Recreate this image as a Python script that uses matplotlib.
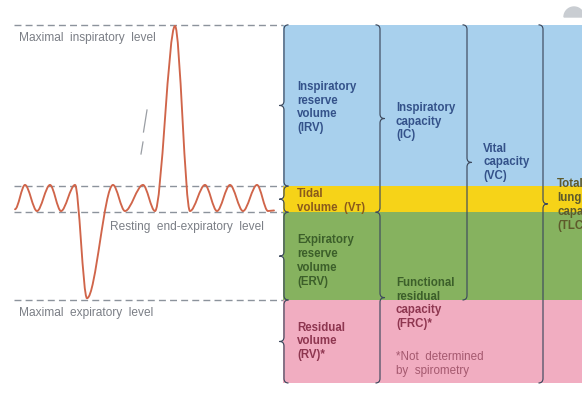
import matplotlib
matplotlib.use('Agg')
import matplotlib.pyplot as plt
from matplotlib.path import Path
from matplotlib.patches import PathPatch, Wedge
import matplotlib.transforms as mtransforms

plt.rcParams['font.family'] = ['Liberation Sans', 'DejaVu Sans']

# lung volumes (mL), from bottom to top
vol_keys = ['RV', 'ERV', 'VT', 'IRV']
vol_values = [1400, 1480, 440, 2720]
vol_colors = ['#f1adc1', '#86b25f', '#f6d318', '#a8d0ed']
vol_text_colors = ['#8e3650', '#3c5f2a', '#8a5a1c', '#34528a']
vol_labels = ['Residual\nvolume\n(RV)*',
              'Expiratory\nreserve\nvolume\n(ERV)',
              'Tidal\nvolume  (V\u1d1b)',
              'Inspiratory\nreserve\nvolume\n(IRV)']

# spirogram trace: time (arb.) and lung volume (mL) at turning points
trace_t = [15, 25, 37, 50, 61, 75, 87, 113, 125, 143, 155, 175, 190, 205, 217, 230, 243, 257, 268, 274]
trace_v = [2930, 3340, 2900, 3340, 2900, 3340, 1430, 3340, 2900, 3340, 2900,
           6020, 2900, 3340, 2900, 3340, 2900, 3340, 2900, 2910]

# cumulative boundaries
bounds = [0]
for v in vol_values:
    bounds.append(bounds[-1] + v)
RV_TOP, ERV_TOP, VT_TOP, TLC = bounds[1], bounds[2], bounds[3], bounds[4]

K = 0.0593          # pixels per mL
def dy(px):         # pixel height -> mL
    return px / K

fig = plt.figure(figsize=(5.82, 4.01), dpi=100)
ax = fig.add_axes([0, 0, 1, 1])
ax.set_xlim(0, 582)
ax.set_ylim(-dy(18), dy(383))
ax.axis('off')

PANEL_X = 283
# coloured bands
ax.bar(PANEL_X, vol_values, bottom=bounds[:-1], width=582 - PANEL_X + 5,
       align='edge', color=vol_colors, linewidth=0, zorder=1)

# dashed level lines
for lev in [RV_TOP, ERV_TOP, VT_TOP, TLC]:
    ax.plot([14, PANEL_X], [lev, lev], color='#8c939c', lw=1.0,
            dashes=(5, 3), zorder=2)

# trace with smooth turning points
f = 0.33
verts = [(trace_t[0], trace_v[0])]
codes = [Path.MOVETO]
for i in range(1, len(trace_t)):
    x0, y0 = trace_t[i - 1], trace_v[i - 1]
    x1, y1 = trace_t[i], trace_v[i]
    d = (x1 - x0) * f
    verts += [(x0 + d, y0), (x1 - d, y1), (x1, y1)]
    codes += [Path.CURVE4] * 3
ax.add_patch(PathPatch(Path(verts, codes), fill=False, edgecolor='#d0654a',
                       lw=1.35, zorder=4, capstyle='round'))

# faint broken mark
ax.plot([147, 143.5], [dy(383 - 110), dy(383 - 132)], color='#9a9ea4', lw=0.9, zorder=3)
ax.plot([143, 141], [dy(383 - 142), dy(383 - 154)], color='#9a9ea4', lw=0.9, zorder=3)

# level labels
lev_kw = dict(color='#7b7f86', fontsize=8.6, textcoords='offset points', va='top', ha='left')
ax.annotate('Maximal  inspiratory  level', (19, TLC), xytext=(0, -5), **lev_kw)
ax.annotate('Resting  end-expiratory  level', (110, ERV_TOP), xytext=(0, -6), **lev_kw)
ax.annotate('Maximal  expiratory  level', (19, RV_TOP), xytext=(0, -5), **lev_kw)


def brace(x, lo, hi, side, color='#3e4a5e'):
    w, r = 4.5, dy(4.5)
    mid = (lo + hi) / 2
    s = side
    v = [(x - s * w, hi), (x, hi), (x, hi - r),
         (x, mid + r), (x, mid), (x + s * w, mid),
         (x, mid), (x, mid - r),
         (x, lo + r), (x, lo), (x - s * w, lo)]
    c = [Path.MOVETO, Path.CURVE3, Path.CURVE3,
         Path.LINETO, Path.CURVE3, Path.CURVE3,
         Path.CURVE3, Path.CURVE3,
         Path.LINETO, Path.CURVE3, Path.CURVE3]
    ax.add_patch(PathPatch(Path(v, c), fill=False, edgecolor=color, lw=0.85,
                           zorder=5, joinstyle='round'))
    return mid


bold = dict(fontsize=8.3, fontweight='bold', ha='left', va='center',
            linespacing=1.2, zorder=6)

# single volumes
label_shift = [0, dy(-5), dy(-2), dy(-2)]
for i in range(4):
    mid = brace(PANEL_X + 1, bounds[i], bounds[i + 1], -1)
    ax.text(297, mid + label_shift[i], vol_labels[i], color=vol_text_colors[i], **bold)

# capacities
mid = brace(380, ERV_TOP, TLC, +1)
ax.text(396, mid - dy(3), 'Inspiratory\ncapacity\n(IC)', color=vol_text_colors[3], **bold)
brace(380, 0, ERV_TOP, +1)
ax.text(396, RV_TOP - dy(3), 'Functional\nresidual', color=vol_text_colors[1],
        **{**bold, 'va': 'bottom'})
ax.text(396, RV_TOP - dy(4), 'capacity\n(FRC)*', color=vol_text_colors[0],
        **{**bold, 'va': 'top'})
ax.text(396, dy(383 - 364), '*Not  determined\nby  spirometry', color='#a5596f',
        fontsize=8.4, ha='left', va='center', linespacing=1.2, zorder=6)

mid = brace(467, RV_TOP, TLC, +1)
ax.text(483, mid, 'Vital\ncapacity\n(VC)', color=vol_text_colors[3], **bold)

mid = brace(543, 0, TLC, +1)
ax.text(557, mid - dy(1), 'Total\nlung\ncapacity\n(TLC)', color='#5e5a2c', **bold)

# small grey blot at top right
ax.add_patch(Wedge((574, 384), 10, 0, 180, transform=mtransforms.IdentityTransform(),
                   color='#c9cdd2', zorder=1))

fig.savefig('out.png', dpi=100, facecolor='white')
